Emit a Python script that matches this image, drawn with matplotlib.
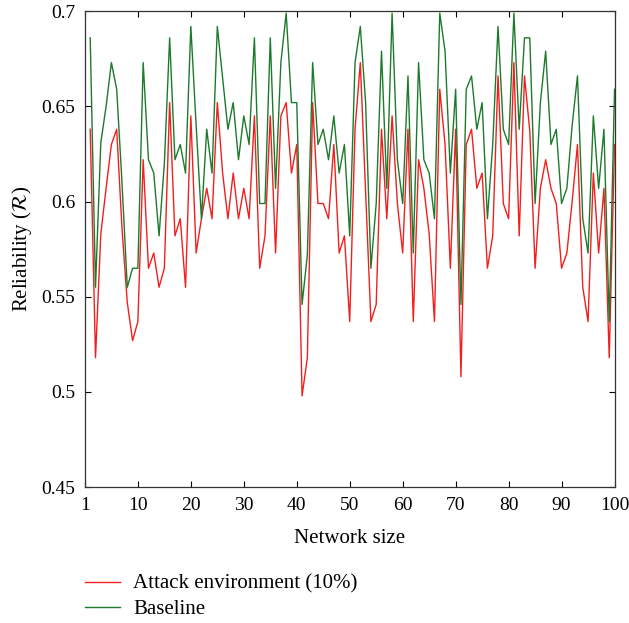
import matplotlib
matplotlib.use('Agg')
import matplotlib.pyplot as plt
import numpy as np

network_size = list(range(1, 101))

attack = [
    0.638, 0.518, 0.583, 0.607, 0.630, 0.638, 0.586, 0.547, 0.527, 0.537,
    0.622, 0.565, 0.573, 0.555, 0.565, 0.652, 0.582, 0.591, 0.555, 0.645,
    0.573, 0.591, 0.607, 0.591, 0.652, 0.615, 0.591, 0.615, 0.591, 0.607,
    0.591, 0.645, 0.565, 0.582, 0.645, 0.573, 0.645, 0.652, 0.615, 0.630,
    0.498, 0.518, 0.652, 0.599, 0.599, 0.591, 0.630, 0.573, 0.582, 0.537,
    0.638, 0.673, 0.605, 0.537, 0.546, 0.638, 0.591, 0.645, 0.599, 0.573,
    0.638, 0.537, 0.622, 0.607, 0.583, 0.537, 0.659, 0.630, 0.565, 0.638,
    0.508, 0.630, 0.638, 0.607, 0.615, 0.565, 0.582, 0.666, 0.599, 0.591,
    0.673, 0.582, 0.666, 0.637, 0.565, 0.607, 0.622, 0.607, 0.599, 0.565,
    0.573, 0.600, 0.630, 0.555, 0.537, 0.615, 0.573, 0.607, 0.518, 0.630,
]

baseline = [
    0.686, 0.555, 0.631, 0.650, 0.673, 0.659, 0.610, 0.555, 0.565, 0.565,
    0.673, 0.622, 0.615, 0.582, 0.620, 0.686, 0.622, 0.630, 0.615, 0.692,
    0.640, 0.591, 0.638, 0.615, 0.692, 0.665, 0.638, 0.652, 0.622, 0.645,
    0.630, 0.686, 0.599, 0.599, 0.686, 0.607, 0.673, 0.699, 0.652, 0.652,
    0.546, 0.572, 0.673, 0.630, 0.638, 0.622, 0.645, 0.615, 0.630, 0.582,
    0.673, 0.692, 0.652, 0.565, 0.599, 0.679, 0.607, 0.699, 0.622, 0.599,
    0.666, 0.573, 0.673, 0.622, 0.615, 0.591, 0.699, 0.679, 0.615, 0.659,
    0.546, 0.659, 0.666, 0.638, 0.652, 0.591, 0.630, 0.692, 0.638, 0.630,
    0.699, 0.638, 0.686, 0.686, 0.599, 0.652, 0.679, 0.630, 0.638, 0.599,
    0.607, 0.640, 0.666, 0.591, 0.573, 0.645, 0.607, 0.638, 0.537, 0.659,
]

x_ticks = [0, 10, 20, 30, 40, 50, 60, 70, 80, 90, 100]
x_tick_labels = ['1', '10', '20', '30', '40', '50', '60', '70', '80', '90', '100']
y_ticks = [0.45, 0.5, 0.55, 0.6, 0.65, 0.7]
y_tick_labels = ['0.45', '0.5', '0.55', '0.6', '0.65', '0.7']

plt.rcParams['font.family'] = ['Liberation Serif', 'DejaVu Serif']
plt.rcParams['mathtext.fontset'] = 'stix'
plt.rcParams['font.size'] = 15

fig = plt.figure(figsize=(6.29, 6.23), dpi=100)
ax = fig.add_axes([0.135, 0.218, 0.842, 0.764])

ax.plot(network_size, attack, color='#f0201e', lw=1.0, label='Attack environment (10%)')
ax.plot(network_size, baseline, color='#1d7a2c', lw=1.0, label='Baseline')

ax.set_xlim(0, 100)
ax.set_ylim(0.45, 0.7)
ax.set_xticks(x_ticks)
ax.set_xticklabels(x_tick_labels)
ax.set_yticks(y_ticks)
ax.set_yticklabels(y_tick_labels)
ax.tick_params(direction='in', top=True, right=True, length=4, width=0.8,
               labelsize=14, pad=7)
for s in ax.spines.values():
    s.set_linewidth(0.9)
    s.set_color('#333333')

ax.set_xlabel('Network size', fontsize=15, labelpad=11)
ax.set_ylabel(r'Reliability ($\mathcal{R}$)', fontsize=15, labelpad=5)

fig.legend(loc='upper left', bbox_to_anchor=(0.1216, 0.0915), frameon=False,
           handlelength=1.68, handletextpad=0.63, labelspacing=0.28, fontsize=15,
           borderaxespad=0)

fig.savefig('out.png', dpi=100)
